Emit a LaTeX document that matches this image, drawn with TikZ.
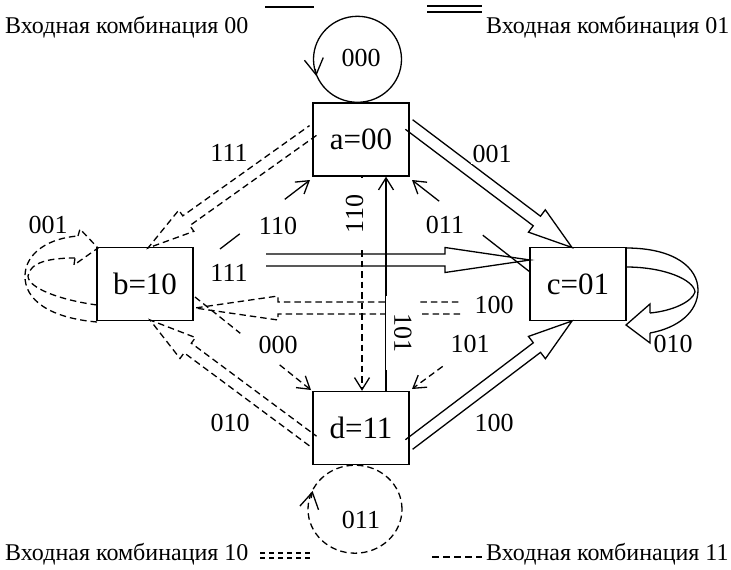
\documentclass[tikz,border=0pt]{standalone}
\usepackage{fontspec}
\setmainfont{Liberation Serif}
\usetikzlibrary{calc,arrows.meta}
\tikzset{
  stbox/.style={draw, line width=1.4pt, minimum width=96pt, minimum height=73pt, inner sep=0pt, font=\fontsize{31}{31}\selectfont},
  lab/.style={fill=white, inner sep=1.5pt, font=\fontsize{26}{26}\selectfont},
  leg/.style={inner sep=0pt, font=\fontsize{24}{24}\selectfont},
  ln/.style={line width=1.3pt, line join=miter},
  dsh/.style={line width=1.3pt, line join=miter, dash pattern=on 6.5pt off 4pt},
  barb/.style={-{Straight Barb[length=12pt,width=15pt,line width=1.3pt]}},
  bigbarb/.style={-{Straight Barb[length=16pt,width=19pt,line width=1.3pt]}},
}
% double-line arrow: #1 style, #2 start, #3 apex, #4 head length, #5 head half width, #6 visible shaft start offset
\newcommand\dblarrow[6]{%
  \coordinate (dbB) at ($(#3)!#4!(#2)$);
  \coordinate (dbS) at ($(#2)!#6!(#3)$);
  \draw[#1] ($(dbS)!6pt!90:(#3)$) -- ($(dbB)!6pt!90:(#3)$) -- ($(dbB)!#5!90:(#3)$) -- (#3)
     -- ($(dbB)!#5!-90:(#3)$) -- ($(dbB)!6pt!-90:(#3)$) -- ($(dbS)!6pt!-90:(#3)$);
}
\begin{document}
\begin{tikzpicture}[x=1pt,y=-1pt]
\useasboundingbox (0,0) rectangle (731,570);

% states
\node[stbox] (a) at (361,139.5) {a=00};
\node[stbox] (b) at (145,284) {b=10};
\node[stbox] (c) at (578,284) {c=01};
\node[stbox] (d) at (361,428) {d=11};

% attachment points
\coordinate (aR)  at (409,124.5);
\coordinate (aL)  at (313,130.5);
\coordinate (cTop) at (572,247.5);
\coordinate (cBot) at (572,321);
\coordinate (cL)  at (530,260);
\coordinate (bR1) at (193,260);
\coordinate (cW2) at (530,308);
\coordinate (bR2) at (195,308);
\coordinate (dR)  at (409,444.5);
\coordinate (bTop) at (148,248);
\coordinate (dL)  at (313,441);
\coordinate (bBot) at (150,320);
\coordinate (b110) at (220,249);
\coordinate (a110) at (310,180);
\coordinate (c011) at (530,272);
\coordinate (a011) at (412,180);
\coordinate (b000) at (195,297);
\coordinate (d000) at (311,390);
\coordinate (c101) at (530,302);
\coordinate (d101) at (412,389);

% --- input 00 : solid single ---
\draw[ln] ($(a.north)+(-3.5,-43)$) ellipse [x radius=44pt, y radius=43pt];
\draw[ln,bigbarb] (315.3,69) -- (316.3,76);
\draw[ln] (b110) -- ($(b110)!0.22!(a110)$);
\draw[ln,barb] ($(b110)!0.72!(a110)$) -- (a110);
\draw[ln] (c011) -- ($(c011)!0.40!(a011)$);
\draw[ln,barb] ($(c011)!0.77!(a011)$) -- (a011);
\draw[ln,barb] ($(d.north)+(25,0)$) -- ($(a.south)+(25,0)$);

% --- input 11 : dashed single ---
\draw[dsh,barb] ($(a.south)+(1,0)$) -- ($(d.north)+(1,0)$);
\draw[dsh] (b000) -- ($(b000)!0.39!(d000)$);
\draw[dsh,barb] ($(b000)!0.73!(d000)$) -- (d000);
\draw[dsh,barb] ($(c101)!0.74!(d101)$) -- (d101);
\draw[dsh] ($(d.south)+(-6,44)$) ellipse [x radius=47pt, y radius=44pt];
\draw[ln,bigbarb] (311.2,498) -- (312.6,491);

% --- input 01 : solid double ---
\dblarrow{ln}{aR}{cTop}{44pt}{14pt}{0pt}
\dblarrow{ln}{bR1}{cL}{85pt}{12.5pt}{73pt}
\dblarrow{ln}{dR}{cBot}{44pt}{14pt}{0pt}
\draw[ln] (626,248) .. controls (675,248) and (698,268) .. (698,290)
   .. controls (698,312) and (678,328) .. (650,333);
\draw[ln] (626,267) .. controls (665,267) and (694,280) .. (695,292)
   .. controls (692,302) and (672,311) .. (650,313);
\draw[ln] (650,313) -- (650,304) -- (626,325) -- (650,343) -- (650,333);

% --- input 10 : dashed double ---
\dblarrow{dsh}{aL}{bTop}{47pt}{13pt}{0pt}
\dblarrow{dsh}{cW2}{bR2}{83pt}{12pt}{70pt}
\dblarrow{dsh}{dL}{bBot}{47pt}{13pt}{0pt}
\draw[dsh] (97,322) .. controls (50,318) and (24,300) .. (25,275)
   .. controls (26,252) and (50,238) .. (78,236);
\draw[dsh] (97,305) .. controls (60,300) and (28,288) .. (28,276)
   .. controls (30,262) and (50,258) .. (75,258);
\draw[dsh] (78,236) -- (80,229) -- (98,248) -- (74,265) -- (75,258);

% labels
\node[lab] (l1) at (361,58) {000};
\node[lab] (l2) at (492,154) {001};
\node[lab] (l3) at (229,153) {111};
\node[lab] (l4) at (278,226) {110};
\node[lab, rotate=90, minimum width=72pt] (l5) at (354.5,214) {110};
\node[lab] (l6) at (445,225) {011};
\node[lab] (l7) at (229,273) {111};
\node[lab] (l8) at (494,305) {100};
\node[lab, rotate=-90, minimum width=74pt, minimum height=34pt] (l9) at (403,333) {101};
\node[lab] (l10) at (48,225) {001};
\node[lab] (l11) at (278,345) {000};
\node[lab] (l12) at (470,344) {101};
\node[lab] (l13) at (230,423) {010};
\node[lab] (l14) at (494,423) {100};
\node[lab] (l15) at (673,344) {010};
\node[lab] (l16) at (361,520) {011};

% legend
\node[leg, anchor=base west] (g1) at (5,33) {Входная комбинация 00};
\node[leg, anchor=base west] (g2) at (486,33) {Входная комбинация 01};
\node[leg, anchor=base west] (g3) at (5,560) {Входная комбинация 10};
\node[leg, anchor=base west] (g4) at (486,560) {Входная комбинация 11};
\draw[line width=1.5pt] (265,7) -- (314,7);
\draw[line width=1.8pt] (427,6) -- (482,6);
\draw[line width=1.8pt] (427,12) -- (482,12);
\draw[line width=2pt, dash pattern=on 5pt off 4pt] (260,553) -- (313,553);
\draw[line width=2pt, dash pattern=on 5pt off 4pt] (260,558) -- (313,558);
\draw[line width=1.3pt, dash pattern=on 7pt off 4pt] (432,557) -- (482,557);
\end{tikzpicture}
\end{document}
